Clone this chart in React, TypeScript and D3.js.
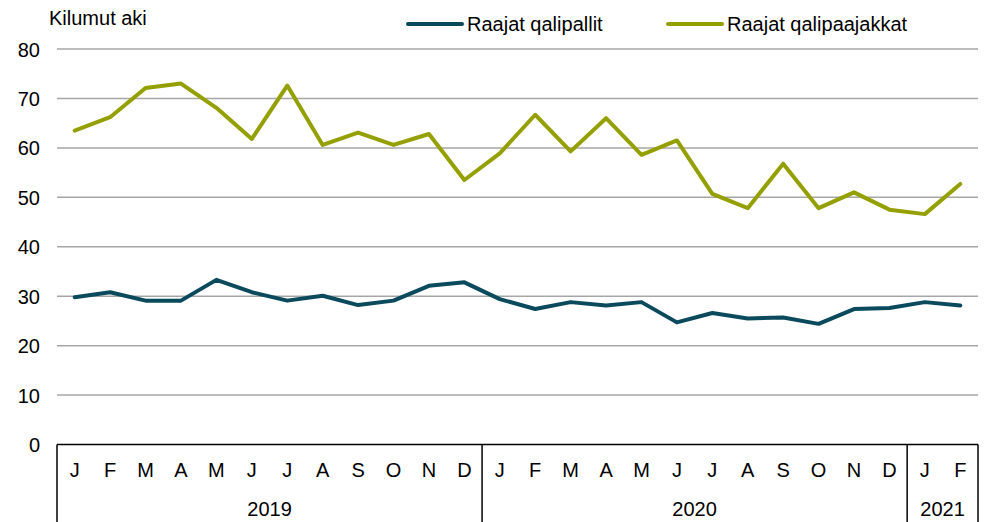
import React, { useRef, useEffect } from "react";
import * as d3 from "d3";

const months = ["J", "F", "M", "A", "M", "J", "J", "A", "S", "O", "N", "D", "J", "F", "M", "A", "M", "J", "J", "A", "S", "O", "N", "D", "J", "F"];
const years = [
    { label: "2019", count: 12 },
    { label: "2020", count: 12 },
    { label: "2021", count: 2 },
];
const qalipallit = [29.8, 30.8, 29.1, 29.1, 33.3, 30.8, 29.1, 30.1, 28.2, 29.1, 32.1, 32.8, 29.4, 27.4, 28.8, 28.1, 28.8, 24.7, 26.6, 25.5, 25.7, 24.4, 27.4, 27.6, 28.8, 28.1];
const qalipaajakkat = [63.5, 66.2, 72.1, 73.0, 68.1, 61.8, 72.6, 60.6, 63.1, 60.6, 62.8, 53.5, 58.9, 66.7, 59.3, 66.0, 58.6, 61.5, 50.7, 47.8, 56.8, 47.8, 51.0, 47.5, 46.6, 52.7];
const yTicks = [0, 10, 20, 30, 40, 50, 60, 70, 80];
const seriesNames = ["Raajat qalipallit", "Raajat qalipaajakkat"];
const colors = ["#0b4a5c", "#94a000"];

const W = 989;
const H = 522;
const FONT = "'Liberation Sans', Arial, sans-serif";
const FS = "20px";

const Chart: React.FC = () => {
    const svgRef = useRef<SVGSVGElement | null>(null);

    useEffect(() => {
        const left = 57;
        const right = 978;
        const top = 49;
        const bottom = 444.5;

        const svg = d3.select(svgRef.current);
        svg.selectAll("*").remove();
        svg.attr("width", W).attr("height", H);

        const idx = months.map((_, i) => i);
        const x = d3.scaleBand<number>().domain(idx).range([left, right]);
        const y = d3.scaleLinear().domain([0, 80]).range([bottom, top]);

        // gridlines
        svg.append("g")
            .selectAll("line")
            .data(yTicks.filter((t) => t > 0))
            .join("line")
            .attr("x1", left)
            .attr("x2", right)
            .attr("y1", (d) => y(d))
            .attr("y2", (d) => y(d))
            .attr("stroke", "#a6a6a6")
            .attr("stroke-width", 1.5);

        // y tick labels
        svg.append("g")
            .selectAll("text")
            .data(yTicks)
            .join("text")
            .attr("x", 40)
            .attr("y", (d) => y(d) + 7.5)
            .attr("text-anchor", "end")
            .style("font-family", FONT)
            .style("font-size", FS)
            .attr("fill", "#000")
            .text((d) => d);

        svg.append("text")
            .attr("x", 49)
            .attr("y", 25)
            .style("font-family", FONT)
            .style("font-size", FS)
            .text("Kilumut aki");

        // category axis with boxes
        const axis = svg.append("g");
        axis.append("line")
            .attr("x1", left)
            .attr("x2", right)
            .attr("y1", bottom)
            .attr("y2", bottom)
            .attr("stroke", "#000")
            .attr("stroke-width", 1.5);

        const bounds: number[] = [0];
        years.forEach((yr) => bounds.push(bounds[bounds.length - 1] + yr.count));
        axis.selectAll("line.div")
            .data(bounds)
            .join("line")
            .attr("class", "div")
            .attr("x1", (d) => (d < months.length ? (x(d) as number) : right))
            .attr("x2", (d) => (d < months.length ? (x(d) as number) : right))
            .attr("y1", bottom)
            .attr("y2", H)
            .attr("stroke", "#000")
            .attr("stroke-width", 1.5);

        axis.selectAll("text.month")
            .data(months)
            .join("text")
            .attr("class", "month")
            .attr("x", (_, i) => (x(i) as number) + x.bandwidth() / 2)
            .attr("y", 477)
            .attr("text-anchor", "middle")
            .style("font-family", FONT)
            .style("font-size", FS)
            .text((d) => d);

        axis.selectAll("text.year")
            .data(years)
            .join("text")
            .attr("class", "year")
            .attr("x", (d, i) => {
                const s = x(bounds[i]) as number;
                const e = bounds[i + 1] < months.length ? (x(bounds[i + 1]) as number) : right;
                return (s + e) / 2;
            })
            .attr("y", 516)
            .attr("text-anchor", "middle")
            .style("font-family", FONT)
            .style("font-size", FS)
            .text((d) => d.label);

        const line = d3
            .line<number>()
            .x((_, i) => (x(i) as number) + x.bandwidth() / 2)
            .y((d) => y(d));

        [qalipallit, qalipaajakkat].forEach((series, k) => {
            svg.append("path")
                .datum(series)
                .attr("fill", "none")
                .attr("stroke", colors[k])
                .attr("stroke-width", 4)
                .attr("stroke-linejoin", "round")
                .attr("stroke-linecap", "round")
                .attr("d", line);
        });

        // legend
        const legendX = [408, 668];
        const lg = svg.append("g");
        seriesNames.forEach((name, k) => {
            lg.append("line")
                .attr("x1", legendX[k])
                .attr("x2", legendX[k] + 54)
                .attr("y1", 24)
                .attr("y2", 24)
                .attr("stroke", colors[k])
                .attr("stroke-width", 4)
                .attr("stroke-linecap", "round");
            lg.append("text")
                .attr("x", legendX[k] + 59)
                .attr("y", 31)
                .style("font-family", FONT)
                .style("font-size", FS)
                .text(name);
        });

        return () => {
            svg.selectAll("*").remove();
        };
    }, []);

    return <svg ref={svgRef} style={{ position: "absolute", left: 0, top: 0 }}></svg>;
};

export default function App() {
    return <Chart />;
}
